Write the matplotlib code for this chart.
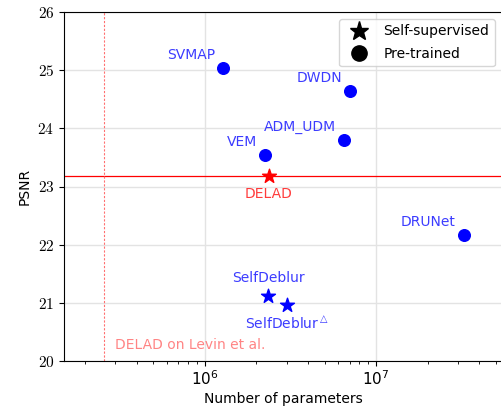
import matplotlib
matplotlib.use("Agg")
import matplotlib.pyplot as plt
from matplotlib.ticker import FuncFormatter
from matplotlib.lines import Line2D

plt.rcParams['font.family'] = ['DejaVu Sans']
plt.rcParams['mathtext.fontset'] = 'cm'

# data
pretrained_names = ["SVMAP", "DWDN", "ADM_UDM", "VEM", "DRUNet"]
pretrained_params = [1.28e6, 7.08e6, 6.53e6, 2.25e6, 3.27e7]
pretrained_psnr = [25.04, 24.65, 23.80, 23.55, 22.17]

selfsup_names = ["SelfDeblur", "SelfDeblur$^{\\triangle}$"]
selfsup_params = [2.35e6, 3.0e6]
selfsup_psnr = [21.12, 20.97]

delad_name = "DELAD"
delad_params = 2.37e6
delad_psnr = 23.18
delad_levin_params = 2.58e5
delad_levin_label = "DELAD on Levin et al."

fig = plt.figure(figsize=(5.01, 4.08), dpi=100)
ax = fig.add_axes([64/501, (408-361)/408, (502-64)/501, (361-12)/408])

ax.set_xscale('log')
ax.set_xlim(1.5e5, 5.45e7)
ax.set_ylim(20, 26)

ax.grid(True, which='major', color='#e3e3e3', linewidth=1.0)
ax.set_axisbelow(True)

ax.axhline(delad_psnr, color='red', linewidth=0.9, zorder=2)
ax.axvline(delad_levin_params, color='#ff7070', linewidth=0.8, linestyle=(0, (2, 1.5)), zorder=2)

ax.scatter(pretrained_params, pretrained_psnr, marker='o', s=70, color='blue', zorder=3)
ax.scatter(selfsup_params, selfsup_psnr, marker='*', s=110, color='blue', zorder=3)
ax.scatter([delad_params], [delad_psnr], marker='*', s=110, color='red', zorder=3)

blue_txt = (0.1, 0.1, 1.0, 0.85)
for n, x, y in zip(pretrained_names, pretrained_params, pretrained_psnr):
    ax.annotate(n, (x, y), xytext=(-6, 9), textcoords='offset points',
                ha='right', va='center', fontsize=10, color=blue_txt)

ax.annotate(selfsup_names[0], (selfsup_params[0], selfsup_psnr[0]), xytext=(0, 12.5),
            textcoords='offset points', ha='center', va='center', fontsize=10, color=blue_txt)
ax.annotate(selfsup_names[1], (selfsup_params[1], selfsup_psnr[1]), xytext=(0, -13),
            textcoords='offset points', ha='center', va='center', fontsize=10, color=blue_txt,
            math_fontfamily='dejavusans')
ax.annotate(delad_name, (delad_params, delad_psnr), xytext=(0, -13),
            textcoords='offset points', ha='center', va='center', fontsize=10,
            color=(1.0, 0.1, 0.1, 0.85))
ax.text(delad_levin_params * 1.15, 20.27, delad_levin_label, ha='left', va='center',
        fontsize=10, color=(1.0, 0.2, 0.2, 0.6))

ax.yaxis.set_major_formatter(FuncFormatter(lambda v, p: f"${int(round(v))}$"))
ax.tick_params(axis='both', labelsize=11)
ax.tick_params(axis='x', pad=2.5)
ax.set_xlabel("Number of parameters", fontsize=10, labelpad=3)
ax.set_ylabel("PSNR", fontsize=10)

ax.spines['right'].set_visible(False)

handles = [Line2D([], [], marker='*', color='black', linestyle='none', markersize=14),
           Line2D([], [], marker='o', color='black', linestyle='none', markersize=11)]
ax.legend(handles, ["Self-supervised", "Pre-trained"], loc='upper right', fontsize=10,
          borderaxespad=0.5, labelspacing=0.6)

fig.savefig("out.png", dpi=100)
